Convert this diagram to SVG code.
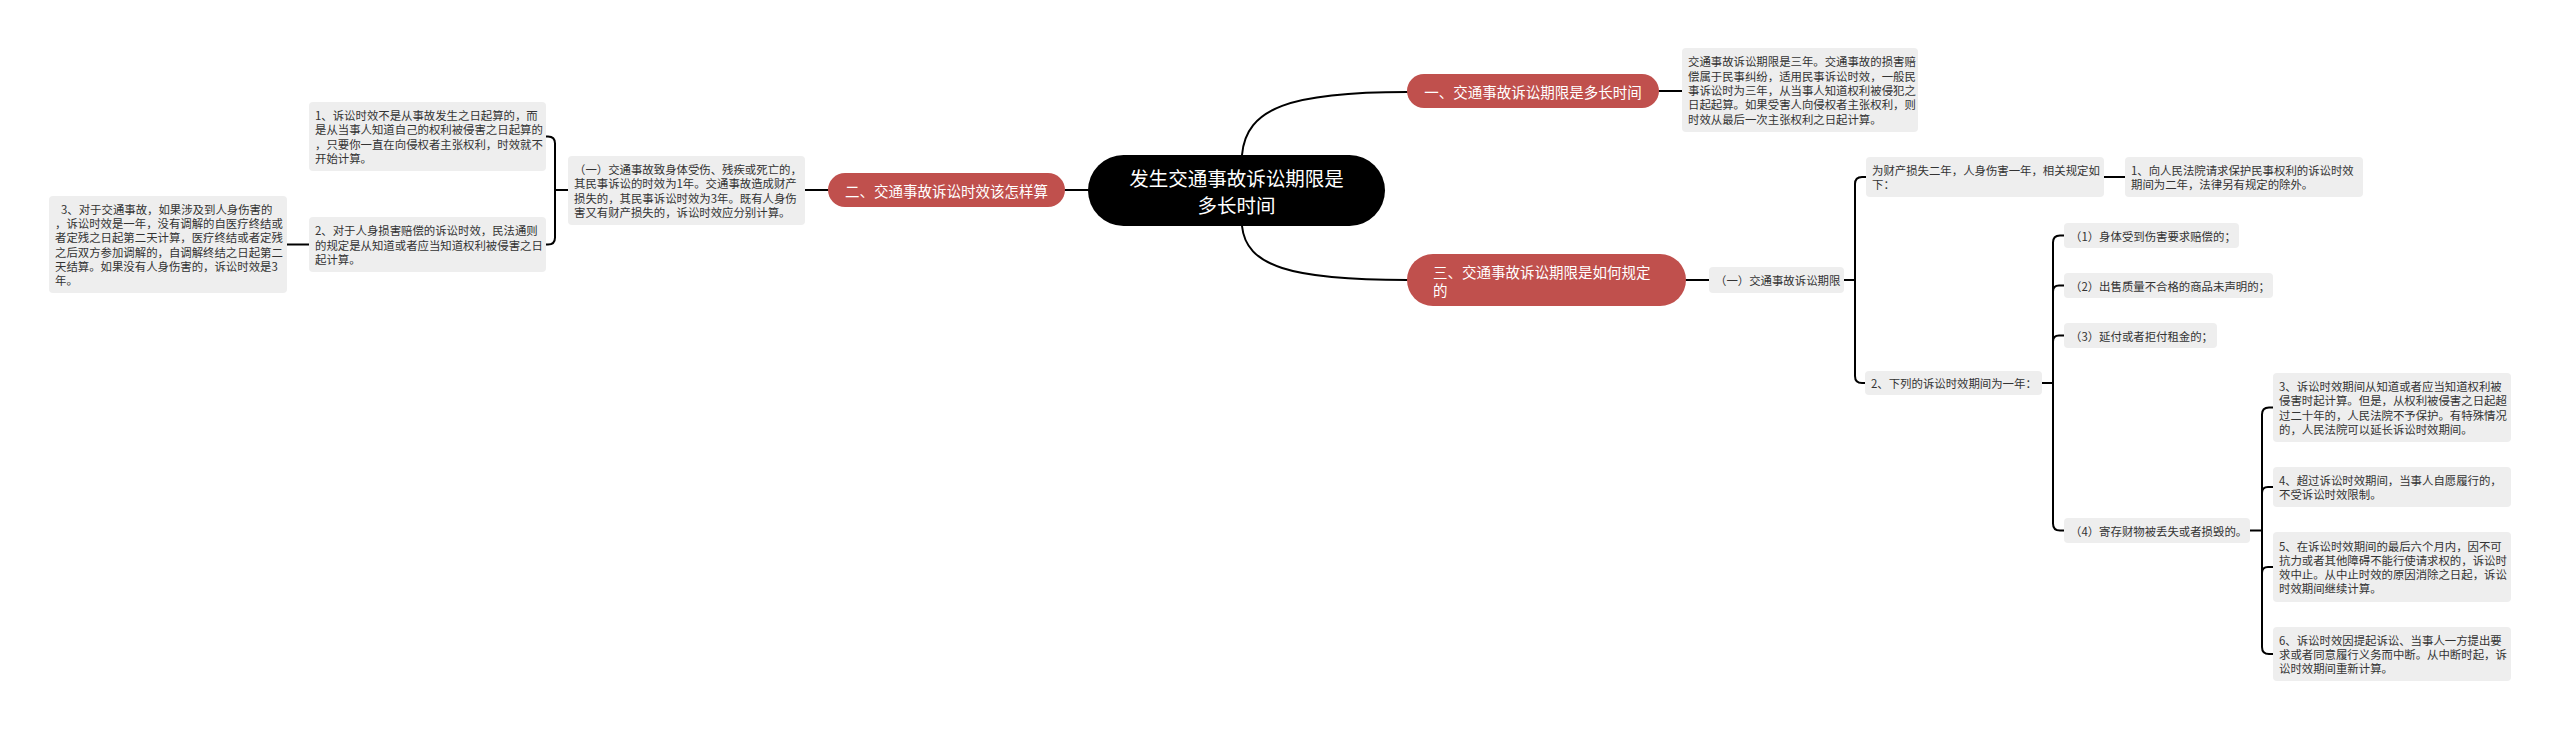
<svg xmlns="http://www.w3.org/2000/svg" width="2560" height="730" viewBox="0 0 2560 730">
<style>
.bg{fill:#ffffff}
.g{fill:#eeeeee}
.r{fill:#c0504d}
.root{fill:#000000}
.t{font-family:"Noto Sans CJK SC","Noto Sans",sans-serif;font-size:11.4px;fill:#333333;dominant-baseline:central}
.rt{font-family:"Noto Sans CJK SC","Noto Sans",sans-serif;font-size:14.5px;fill:#ffffff;dominant-baseline:central}
.mt{font-family:"Noto Sans CJK SC","Noto Sans",sans-serif;font-size:19.5px;fill:#ffffff;dominant-baseline:central;text-anchor:middle}
.c{fill:none;stroke:#000000;stroke-width:2;stroke-linecap:round}
</style>
<rect class="bg" x="0" y="0" width="2560" height="730"/>
<g id="connectors">
<path class="c" d="M1242,155 C1246,108 1290,92 1407,92"/>
<path class="c" d="M1242,226 C1246,266 1290,280 1407,280"/>
<path class="c" d="M1088,190 L1065,190"/>
<path class="c" d="M1659,91 L1682,91"/>
<path class="c" d="M828,190 L805,190"/>
<path class="c" d="M568,190 L555,190"/>
<path class="c" d="M546,136.5 L548,136.5 Q555,136.5 555,143.5 L555,237.5 Q555,244.5 548,244.5 L546,244.5"/>
<path class="c" d="M309,244.5 L287,244.5"/>
<path class="c" d="M1686,280 L1709,280"/>
<path class="c" d="M1844,280 L1855,280"/>
<path class="c" d="M1866,177 L1862,177 Q1855,177 1855,184 L1855,376 Q1855,383 1862,383 L1865,383"/>
<path class="c" d="M2104,177 L2125,177"/>
<path class="c" d="M2042,383 L2053,383"/>
<path class="c" d="M2064,235.5 L2060,235.5 Q2053,235.5 2053,242.5 L2053,523.5 Q2053,530.5 2060,530.5 L2064,530.5"/>
<path class="c" d="M2053,291.5 Q2053,285.5 2059,285.5 L2064,285.5"/>
<path class="c" d="M2053,341.5 Q2053,335.5 2059,335.5 L2064,335.5"/>
<path class="c" d="M2250,530.5 L2262,530.5"/>
<path class="c" d="M2273,407.5 L2269,407.5 Q2262,407.5 2262,414.5 L2262,647 Q2262,654 2269,654 L2273,654"/>
<path class="c" d="M2262,493 Q2262,487 2268,487 L2273,487"/>
<path class="c" d="M2262,573 Q2262,567 2268,567 L2273,567"/>
</g>
<g id="root">
<rect class="root" x="1088" y="155" width="297" height="71" rx="35.5"/>
<text class="mt" x="1236.5" y="177">发生交通事故诉讼期限是</text>
<text class="mt" x="1236.5" y="204">多长时间</text>
</g>
<g id="branch1">
<rect class="r" x="1407" y="74" width="252" height="34" rx="17"/>
<text class="rt" x="1533" y="91" text-anchor="middle">一、交通事故诉讼期限是多长时间</text>
</g>
<g id="branch2">
<rect class="r" x="828" y="173" width="237" height="34" rx="17"/>
<text class="rt" x="946.5" y="190" text-anchor="middle">二、交通事故诉讼时效该怎样算</text>
</g>
<g id="branch3">
<rect class="r" x="1407" y="254" width="279" height="52" rx="26"/>
<text class="rt" x="1433" y="271">三、交通事故诉讼期限是如何规定</text>
<text class="rt" x="1433" y="289">的</text>
</g>
<g id="n-b1-detail">
<rect class="g" x="1682" y="48" width="236" height="84" rx="4"/>
<text class="t" x="1688" y="61.4">交通事故诉讼期限是三年。交通事故的损害赔</text>
<text class="t" x="1688" y="75.7">偿属于民事纠纷，适用民事诉讼时效，一般民</text>
<text class="t" x="1688" y="90">事诉讼时为三年，从当事人知道权利被侵犯之</text>
<text class="t" x="1688" y="104.3">日起起算。如果受害人向侵权者主张权利，则</text>
<text class="t" x="1688" y="118.6">时效从最后一次主张权利之日起计算。</text>
</g>
<g id="n-b2-1">
<rect class="g" x="568" y="156" width="237" height="69" rx="4"/>
<text class="t" x="574" y="169.05">（一）交通事故致身体受伤、残疾或死亡的，</text>
<text class="t" x="574" y="183.35">其民事诉讼的时效为1年。交通事故造成财产</text>
<text class="t" x="574" y="197.65">损失的，其民事诉讼时效为3年。既有人身伤</text>
<text class="t" x="574" y="211.95">害又有财产损失的，诉讼时效应分别计算。</text>
</g>
<g id="n-b2-1-1">
<rect class="g" x="309" y="102" width="237" height="69" rx="4"/>
<text class="t" x="315" y="115.05">1、诉讼时效不是从事故发生之日起算的，而</text>
<text class="t" x="315" y="129.35">是从当事人知道自己的权利被侵害之日起算的</text>
<text class="t" x="315" y="143.65">，只要你一直在向侵权者主张权利，时效就不</text>
<text class="t" x="315" y="157.95">开始计算。</text>
</g>
<g id="n-b2-1-2">
<rect class="g" x="309" y="217" width="237" height="55" rx="4"/>
<text class="t" x="315" y="230.2">2、对于人身损害赔偿的诉讼时效，民法通则</text>
<text class="t" x="315" y="244.5">的规定是从知道或者应当知道权利被侵害之日</text>
<text class="t" x="315" y="258.8">起计算。</text>
</g>
<g id="n-b2-1-2-1">
<rect class="g" x="49" y="196" width="238" height="97" rx="4"/>
<text class="t" x="61" y="208.75">3、对于交通事故，如果涉及到人身伤害的</text>
<text class="t" x="55" y="223.05">，诉讼时效是一年，没有调解的自医疗终结或</text>
<text class="t" x="55" y="237.35">者定残之日起第二天计算，医疗终结或者定残</text>
<text class="t" x="55" y="251.65">之后双方参加调解的，自调解终结之日起第二</text>
<text class="t" x="55" y="265.95">天结算。如果没有人身伤害的，诉讼时效是3</text>
<text class="t" x="55" y="280.25">年。</text>
</g>
<g id="n-b3-1">
<rect class="g" x="1709" y="267" width="135" height="26" rx="4"/>
<text class="t" x="1715" y="280">（一）交通事故诉讼期限</text>
</g>
<g id="n-b3-1-1">
<rect class="g" x="1866" y="157" width="238" height="40" rx="4"/>
<text class="t" x="1872" y="169.85">为财产损失二年，人身伤害一年，相关规定如</text>
<text class="t" x="1872" y="184.15">下：</text>
</g>
<g id="n-b3-1-1-1">
<rect class="g" x="2125" y="157" width="238" height="40" rx="4"/>
<text class="t" x="2131" y="169.85">1、向人民法院请求保护民事权利的诉讼时效</text>
<text class="t" x="2131" y="184.15">期间为二年，法律另有规定的除外。</text>
</g>
<g id="n-b3-1-2">
<rect class="g" x="1865" y="371" width="177" height="24" rx="4"/>
<text class="t" x="1871" y="383">2、下列的诉讼时效期间为一年：</text>
</g>
<g id="n-item1">
<rect class="g" x="2064" y="223" width="175" height="25" rx="4"/>
<text class="t" x="2070" y="235.5">（1）身体受到伤害要求赔偿的；</text>
</g>
<g id="n-item2">
<rect class="g" x="2064" y="273" width="209" height="25" rx="4"/>
<text class="t" x="2070" y="285.5">（2）出售质量不合格的商品未声明的；</text>
</g>
<g id="n-item3">
<rect class="g" x="2064" y="323" width="153" height="25" rx="4"/>
<text class="t" x="2070" y="335.5">（3）延付或者拒付租金的；</text>
</g>
<g id="n-item4">
<rect class="g" x="2064" y="518" width="186" height="25" rx="4"/>
<text class="t" x="2070" y="530.5">（4）寄存财物被丢失或者损毁的。</text>
</g>
<g id="n-rule3">
<rect class="g" x="2273" y="373" width="238" height="69" rx="4"/>
<text class="t" x="2279" y="386.05">3、诉讼时效期间从知道或者应当知道权利被</text>
<text class="t" x="2279" y="400.35">侵害时起计算。但是，从权利被侵害之日起超</text>
<text class="t" x="2279" y="414.65">过二十年的，人民法院不予保护。有特殊情况</text>
<text class="t" x="2279" y="428.95">的，人民法院可以延长诉讼时效期间。</text>
</g>
<g id="n-rule4">
<rect class="g" x="2273" y="467" width="238" height="40" rx="4"/>
<text class="t" x="2279" y="479.85">4、超过诉讼时效期间，当事人自愿履行的，</text>
<text class="t" x="2279" y="494.15">不受诉讼时效限制。</text>
</g>
<g id="n-rule5">
<rect class="g" x="2273" y="532" width="238" height="70" rx="4"/>
<text class="t" x="2279" y="545.55">5、在诉讼时效期间的最后六个月内，因不可</text>
<text class="t" x="2279" y="559.85">抗力或者其他障碍不能行使请求权的，诉讼时</text>
<text class="t" x="2279" y="574.15">效中止。从中止时效的原因消除之日起，诉讼</text>
<text class="t" x="2279" y="588.45">时效期间继续计算。</text>
</g>
<g id="n-rule6">
<rect class="g" x="2273" y="627" width="238" height="54" rx="4"/>
<text class="t" x="2279" y="639.7">6、诉讼时效因提起诉讼、当事人一方提出要</text>
<text class="t" x="2279" y="654">求或者同意履行义务而中断。从中断时起，诉</text>
<text class="t" x="2279" y="668.3">讼时效期间重新计算。</text>
</g>
</svg>
